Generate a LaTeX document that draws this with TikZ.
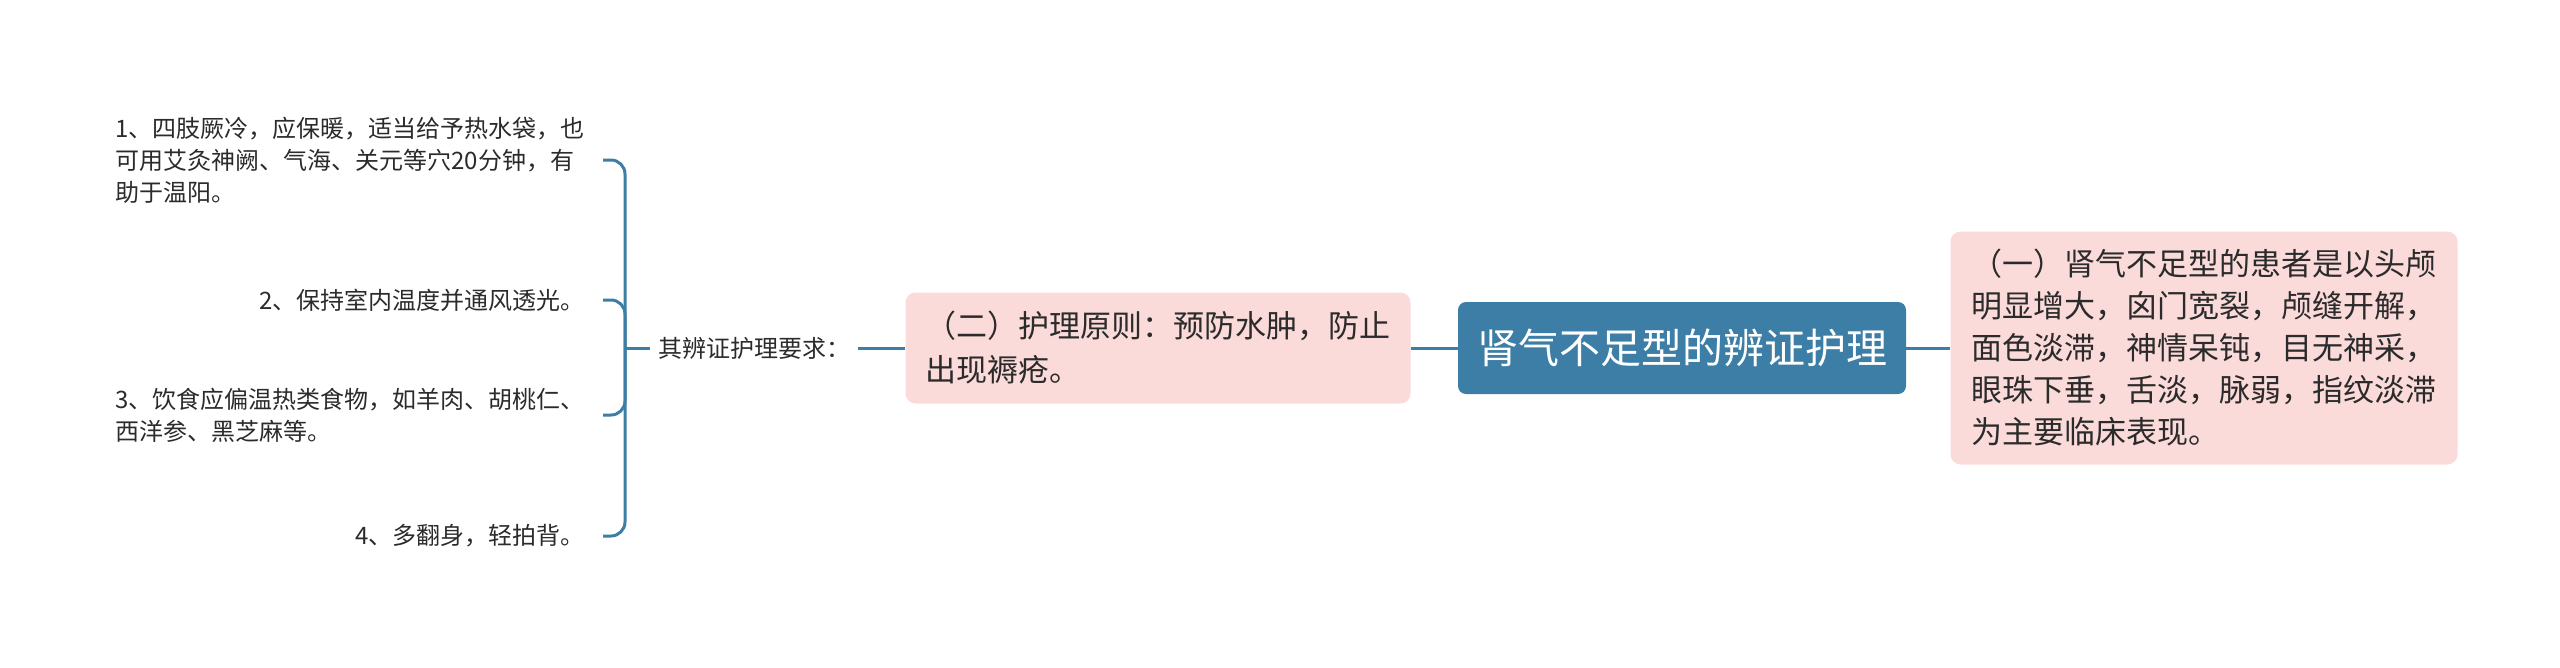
\documentclass[tikz,border=0pt]{standalone}
\usepackage{fontspec}
\setmainfont{Noto Sans CJK SC}
\definecolor{kblue}{HTML}{3D7EA6}
\definecolor{kpink}{HTML}{FBDADA}
\definecolor{ktext}{HTML}{2B2B2B}
\begin{document}
\begin{tikzpicture}[x=1pt,y=-1pt,
  topic/.style={fill=kblue,rounded corners=8pt,text=white,font=\fontsize{41}{50}\selectfont,minimum width=448pt,minimum height=92pt,inner sep=0pt},
  sub/.style={fill=kpink,rounded corners=10pt,text=ktext,align=left,inner sep=0pt},
  leaf/.style={text=ktext,font=\fontsize{24}{32}\selectfont,align=left,inner xsep=18pt,inner ysep=2pt},
  link/.style={kblue,line width=3pt}]
\pgfmathsetmacro{\kmidy}{348}
\pgfmathsetmacro{\khubx}{625}
\useasboundingbox (0,0) rectangle (2560,667);
\node[topic] (root) at (1682,\kmidy) {肾气不足型的辨证护理};
\node[sub,font=\fontsize{31}{42}\selectfont,minimum width=507pt,minimum height=233pt] (sign) at (2204,\kmidy) {（一）肾气不足型的患者是以头颅\\明显增大，囟门宽裂，颅缝开解，\\面色淡滞，神情呆钝，目无神采，\\眼珠下垂，舌淡，脉弱，指纹淡滞\\为主要临床表现。};
\node[sub,font=\fontsize{31}{44}\selectfont,minimum width=505pt,minimum height=111pt] (rule) at (1158,\kmidy) {（二）护理原则：预防水肿，防止\\出现褥疮。};
\node[leaf,inner xsep=8pt] (need) at (754,\kmidy) {其辨证护理要求：};
\coordinate (hub) at (\khubx,\kmidy);
\draw[link] (root.east) -- (sign.west);
\draw[link] (root.west) -- (rule.east);
\draw[link] (rule.west) -- (need.east);
\draw[link] (need.west) -- (hub);
\foreach \n/\y/\t in {1/160/{1、四肢厥冷，应保暖，适当给予热水袋，也\\可用艾灸神阙、气海、关元等穴20分钟，有\\助于温阳。},2/300/{2、保持室内温度并通风透光。},3/415/{3、饮食应偏温热类食物，如羊肉、胡桃仁、\\西洋参、黑芝麻等。},4/536/{4、多翻身，轻拍背。}}{
\node[leaf,anchor=east] (it\n) at (603,\y) {\t};
\draw[link,rounded corners=14pt] (hub) |- (it\n.east);
}
\end{tikzpicture}
\end{document}
